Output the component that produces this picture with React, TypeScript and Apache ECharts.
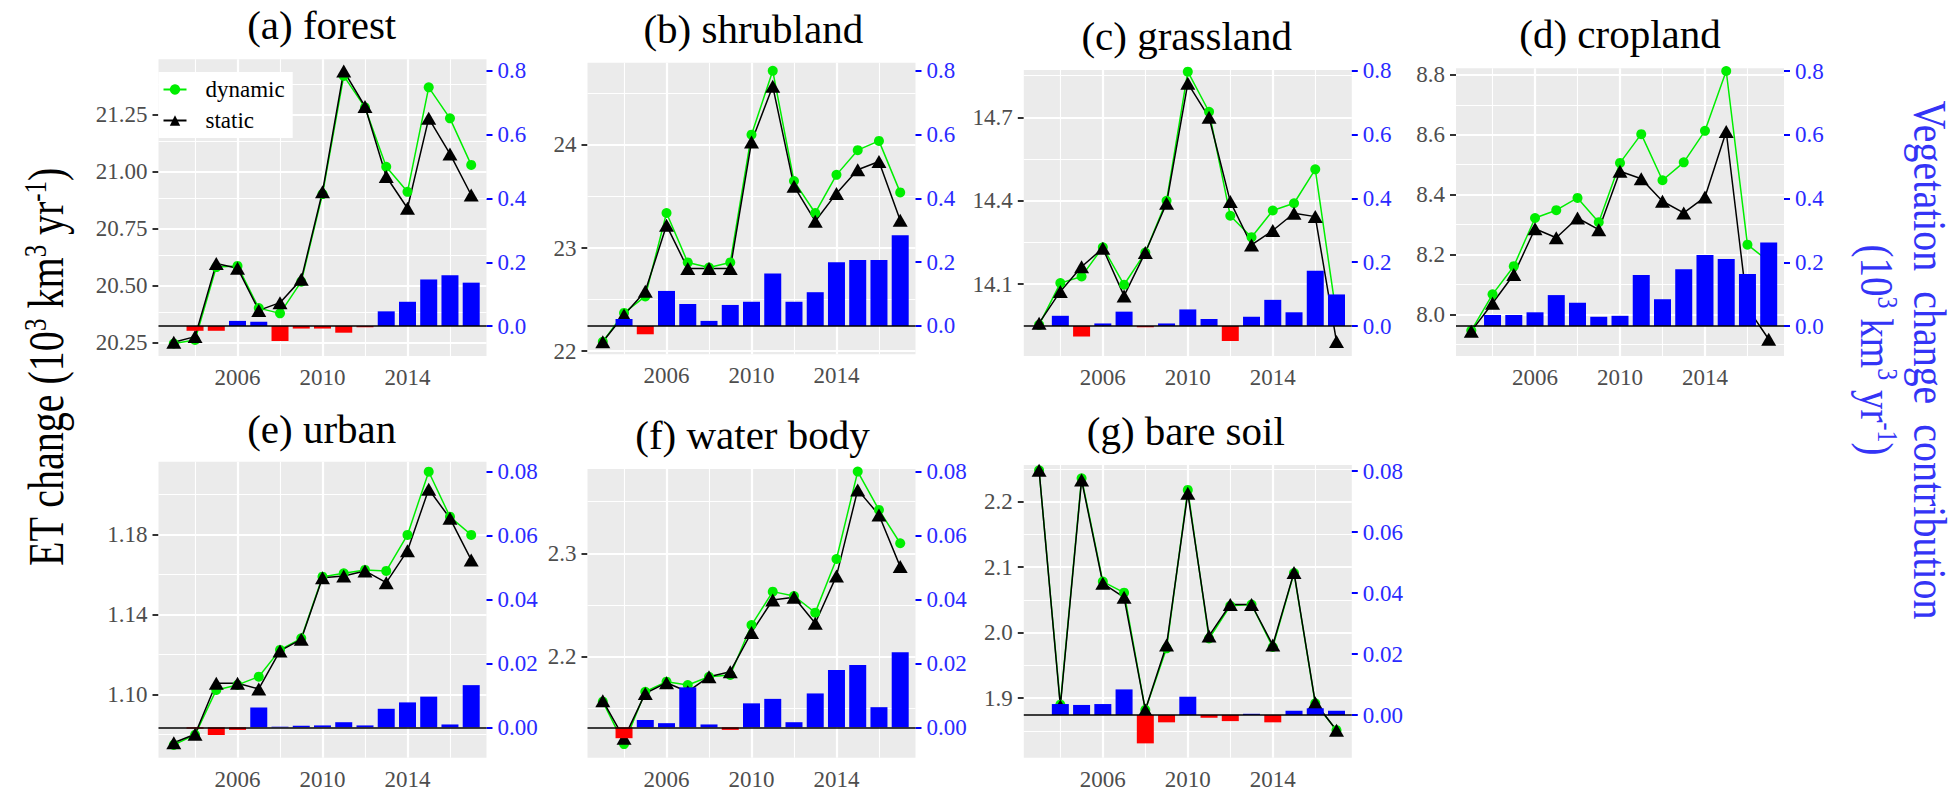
import React, { useEffect, useRef } from 'react';
import * as echarts from 'echarts';

const FONT = "'Liberation Serif', 'Times New Roman', serif";

const years = [2003, 2004, 2005, 2006, 2007, 2008, 2009, 2010, 2011, 2012, 2013, 2014, 2015, 2016, 2017];

const forestDynamic = [20.245, 20.26, 20.58, 20.585, 20.4, 20.377, 20.516, 20.9, 21.418, 21.28, 21.02, 20.91, 21.368, 21.232, 21.028];
const forestStatic = [20.25, 20.275, 20.596, 20.575, 20.39, 20.424, 20.526, 20.91, 21.44, 21.284, 20.977, 20.838, 21.232, 21.076, 20.896];
const forestVeg = [0, -0.015, -0.015, 0.016, 0.013, -0.047, -0.008, -0.008, -0.021, -0.004, 0.046, 0.076, 0.146, 0.159, 0.136];

const shrubDynamic = [22.09, 22.37, 22.53, 23.34, 22.86, 22.81, 22.86, 24.1, 24.72, 23.65, 23.34, 23.71, 23.95, 24.04, 23.54];
const shrubStatic = [22.09, 22.35, 22.58, 23.22, 22.8, 22.8, 22.8, 24.03, 24.57, 23.6, 23.26, 23.53, 23.76, 23.84, 23.27];
const shrubVeg = [0, 0.022, -0.026, 0.11, 0.069, 0.016, 0.066, 0.076, 0.165, 0.076, 0.106, 0.2, 0.207, 0.207, 0.285];

const grassDynamic = [13.954, 14.104, 14.128, 14.233, 14.098, 14.214, 14.4, 14.864, 14.72, 14.346, 14.269, 14.365, 14.391, 14.513, 13.985];
const grassStatic = [13.96, 14.074, 14.163, 14.229, 14.058, 14.214, 14.391, 14.822, 14.7, 14.397, 14.241, 14.293, 14.355, 14.343, 13.894];
const grassVeg = [0, 0.032, -0.033, 0.008, 0.045, -0.004, 0.008, 0.052, 0.022, -0.047, 0.029, 0.082, 0.043, 0.173, 0.099];

const cropDynamic = [7.946, 8.067, 8.161, 8.322, 8.348, 8.389, 8.308, 8.506, 8.602, 8.448, 8.508, 8.613, 8.813, 8.233, 8.177];
const cropStatic = [7.944, 8.037, 8.133, 8.286, 8.256, 8.322, 8.283, 8.478, 8.453, 8.378, 8.339, 8.392, 8.611, 8.022, 7.917];
const cropVeg = [0, 0.0345, 0.0345, 0.043, 0.097, 0.073, 0.029, 0.032, 0.16, 0.084, 0.178, 0.223, 0.21, 0.163, 0.262];

const urbanDynamic = [1.0747, 1.0797, 1.1022, 1.1047, 1.1088, 1.1222, 1.128, 1.1588, 1.1605, 1.1622, 1.1617, 1.1797, 1.2113, 1.1888, 1.1797];
const urbanStatic = [1.0758, 1.08, 1.1055, 1.1055, 1.1027, 1.1217, 1.1275, 1.1583, 1.1592, 1.1617, 1.1558, 1.1718, 1.2025, 1.188, 1.1672];
const urbanVeg = [0, -0.0004, -0.0024, -0.0008, 0.0062, 0.0002, 0.0005, 0.0006, 0.0016, 0.0006, 0.0058, 0.0078, 0.0096, 0.0009, 0.0132];

const waterDynamic = [2.1565, 2.1155, 2.1661, 2.1758, 2.1726, 2.1806, 2.1823, 2.2306, 2.2629, 2.2587, 2.2426, 2.2945, 2.379, 2.3419, 2.3097];
const waterStatic = [2.1574, 2.121, 2.1645, 2.1748, 2.1661, 2.1806, 2.1855, 2.2235, 2.2548, 2.2574, 2.2323, 2.2781, 2.3613, 2.3371, 2.2871];
const waterVeg = [0, -0.0034, 0.0023, 0.0013, 0.0125, 0.0009, -0.0008, 0.0075, 0.0089, 0.0016, 0.0106, 0.0179, 0.0195, 0.0063, 0.0235];

const bareDynamic = [2.248, 1.89, 2.2357, 2.078, 2.061, 1.882, 1.976, 2.218, 1.991, 2.041, 2.043, 1.978, 2.091, 1.892, 1.851];
const bareStatic = [2.248, 1.888, 2.233, 2.0754, 2.054, 1.882, 1.981, 2.213, 1.995, 2.043, 2.043, 1.981, 2.092, 1.893, 1.851];
const bareVeg = [0, 0.0036, 0.0033, 0.0036, 0.0084, -0.0093, -0.0024, 0.006, -0.0009, -0.002, 0.0004, -0.0024, 0.0014, 0.0022, 0.0014];

const xTickYears = [2006, 2010, 2014];
const xMinorYears = [2004, 2008, 2012, 2016];

const forestMajor = [20.25, 20.5, 20.75, 21.0, 21.25];
const forestMinor = [20.375, 20.625, 20.875, 21.125, 21.375];
const shrubMajor = [22, 23, 24];
const shrubMinor = [22.5, 23.5, 24.5];
const grassMajor = [14.1, 14.4, 14.7];
const grassMinor = [13.95, 14.25, 14.55, 14.85];
const cropMajor = [8.0, 8.2, 8.4, 8.6, 8.8];
const cropMinor = [7.9, 8.1, 8.3, 8.5, 8.7];
const urbanMajor = [1.1, 1.14, 1.18];
const urbanMinor = [1.08, 1.12, 1.16, 1.2];
const waterMajor = [2.2, 2.3];
const waterMinor = [2.15, 2.25, 2.35];
const bareMajor = [1.9, 2.0, 2.1, 2.2];
const bareMinor = [1.85, 1.95, 2.05, 2.15, 2.25];

const vegTicksLarge = [0, 0.2, 0.4, 0.6, 0.8];
const vegTicksSmall = [0, 0.02, 0.04, 0.06, 0.08];

const panels = [
  { title: '(a) forest', dyn: forestDynamic, sta: forestStatic, veg: forestVeg, major: forestMajor, minor: forestMinor, vegTicks: vegTicksLarge, lDec: 2, rDec: 1 },
  { title: '(b) shrubland', dyn: shrubDynamic, sta: shrubStatic, veg: shrubVeg, major: shrubMajor, minor: shrubMinor, vegTicks: vegTicksLarge, lDec: 0, rDec: 1 },
  { title: '(c) grassland', dyn: grassDynamic, sta: grassStatic, veg: grassVeg, major: grassMajor, minor: grassMinor, vegTicks: vegTicksLarge, lDec: 1, rDec: 1 },
  { title: '(d) cropland', dyn: cropDynamic, sta: cropStatic, veg: cropVeg, major: cropMajor, minor: cropMinor, vegTicks: vegTicksLarge, lDec: 1, rDec: 1 },
  { title: '(e) urban', dyn: urbanDynamic, sta: urbanStatic, veg: urbanVeg, major: urbanMajor, minor: urbanMinor, vegTicks: vegTicksSmall, lDec: 2, rDec: 2 },
  { title: '(f) water body', dyn: waterDynamic, sta: waterStatic, veg: waterVeg, major: waterMajor, minor: waterMinor, vegTicks: vegTicksSmall, lDec: 1, rDec: 2 },
  { title: '(g) bare soil', dyn: bareDynamic, sta: bareStatic, veg: bareVeg, major: bareMajor, minor: bareMinor, vegTicks: vegTicksSmall, lDec: 1, rDec: 2 },
];

// layout (pixels) and axis extents
const layout = [
  { left: 158.5, top: 59.3, height: 296.7, lMin: 20.19, lMax: 21.491, rMin: -0.0941, rMax: 0.8367, tx: 321.7, ty: 25 },
  { left: 587.5, top: 62.7, height: 291.6, lMin: 21.968, lMax: 24.799, rMin: -0.0888, rMax: 0.826, tx: 753.3, ty: 29 },
  { left: 1023.8, top: 70, height: 286, lMin: 13.842, lMax: 14.87, rMin: -0.0941, rMax: 0.803, tx: 1186.7, ty: 36 },
  { left: 1456, top: 68.3, height: 287.7, lMin: 7.861, lMax: 8.822, rMin: -0.0941, rMax: 0.8085, tx: 1620, ty: 33.5 },
  { left: 158.5, top: 461.7, height: 296, lMin: 1.0683, lMax: 1.2163, rMin: -0.0095, rMax: 0.0831, tx: 321.7, ty: 428.5 },
  { left: 587.5, top: 469, height: 288.7, lMin: 2.1023, lMax: 2.3815, rMin: -0.0095, rMax: 0.0808, tx: 752.5, ty: 435 },
  { left: 1023.8, top: 465, height: 292.7, lMin: 1.809, lMax: 2.256, rMin: -0.014, rMax: 0.082, tx: 1185.8, ty: 431 },
];
const GRID_W = 328;
const X_MIN = 2002.28;
const X_MAX = 2017.72;

const GREEN = '#00EE00';
const BLUE = '#0000FF';
const RED = '#FF0000';
const TITLE_BLUE = '#3434F6';

function buildOption() {
  const grid: any[] = [];
  const xAxis: any[] = [];
  const yAxis: any[] = [];
  const series: any[] = [];
  const graphic: any[] = [];

  panels.forEach((p, i) => {
    const L = layout[i];
    grid.push({
      left: L.left, top: L.top, width: GRID_W, height: L.height,
      show: true, backgroundColor: '#EBEBEB', borderWidth: 0,
    });
    xAxis.push({
      type: 'value', gridIndex: i, min: X_MIN, max: X_MAX,
      axisLine: { show: false },
      splitLine: { show: false },
      axisTick: { show: true, length: 6, lineStyle: { color: '#333', width: 2 }, customValues: xTickYears },
      axisLabel: { customValues: xTickYears, formatter: (v: number) => String(Math.round(v)), color: '#4D4D4D', fontSize: 23, fontFamily: FONT, margin: 10 },
    });
    yAxis.push({
      type: 'value', gridIndex: i, position: 'left', min: L.lMin, max: L.lMax,
      axisLine: { show: false },
      splitLine: { show: false },
      axisTick: { show: true, length: 6, lineStyle: { color: '#333', width: 2 }, customValues: p.major },
      axisLabel: { customValues: p.major, formatter: (v: number) => v.toFixed(p.lDec), color: '#4D4D4D', fontSize: 23, fontFamily: FONT, margin: 11 },
    });
    yAxis.push({
      type: 'value', gridIndex: i, position: 'right', min: L.rMin, max: L.rMax,
      axisLine: { show: false },
      splitLine: { show: false },
      axisTick: { show: true, length: 6, lineStyle: { color: BLUE, width: 2 }, customValues: p.vegTicks },
      axisLabel: { customValues: p.vegTicks, formatter: (v: number) => v.toFixed(p.rDec), color: '#2A2AFF', fontSize: 23, fontFamily: FONT, margin: 11 },
    });

    const gridLines: any[] = [];
    xTickYears.forEach((v) => gridLines.push({ xAxis: v, lineStyle: { color: '#FFFFFF', width: 2.2, type: 'solid' } }));
    xMinorYears.forEach((v) => gridLines.push({ xAxis: v, lineStyle: { color: '#FFFFFF', width: 1.1, type: 'solid' } }));
    p.major.forEach((v) => gridLines.push({ yAxis: v, lineStyle: { color: '#FFFFFF', width: 2.2, type: 'solid' } }));
    p.minor.forEach((v) => gridLines.push({ yAxis: v, lineStyle: { color: '#FFFFFF', width: 1.1, type: 'solid' } }));

    series.push({
      type: 'line', name: 'dynamic', xAxisIndex: i, yAxisIndex: 2 * i,
      data: years.map((y, k) => [y, p.dyn[k]]),
      symbol: 'circle', symbolSize: 10,
      itemStyle: { color: GREEN },
      lineStyle: { color: GREEN, width: 1.5 },
      z: 2,
      markLine: {
        silent: true, symbol: ['none', 'none'], z: 1,
        label: { show: false }, emphasis: { disabled: true },
        lineStyle: { type: 'solid' },
        animation: false,
        data: gridLines,
      },
    });
    series.push({
      type: 'line', name: 'static', xAxisIndex: i, yAxisIndex: 2 * i,
      data: years.map((y, k) => [y, p.sta[k]]),
      symbol: 'triangle', symbolSize: [15, 13],
      itemStyle: { color: '#000000' },
      lineStyle: { color: '#000000', width: 1.5 },
      z: 2,
    });
    series.push({
      type: 'bar', name: 'vegetation', xAxisIndex: i, yAxisIndex: 2 * i + 1,
      data: years.map((y, k) => [y, p.veg[k]]),
      barWidth: 17,
      itemStyle: { color: (params: any) => (params.value[1] < 0 ? RED : BLUE) },
      z: 3,
      markLine: {
        silent: true, symbol: ['none', 'none'], z: 4,
        label: { show: false }, emphasis: { disabled: true },
        lineStyle: { type: 'solid', color: '#000000', width: 1.6 },
        animation: false,
        data: [{ yAxis: 0 }],
      },
    });

    graphic.push({
      type: 'text', x: L.tx, y: L.ty,
      style: { text: p.title, fontSize: 41, fontFamily: FONT, fill: '#000000', textAlign: 'center', textVerticalAlign: 'middle' },
    });
  });

  const sup = { fontSize: 31, fontFamily: FONT, verticalAlign: 'top', lineHeight: 30 };

  graphic.push({
    type: 'text', x: 46, y: 367, rotation: Math.PI / 2, scaleX: 0.8,
    style: {
      text: 'ET change (10{s|3} km{s|3} yr{s|-1})',
      fontSize: 50, fontFamily: FONT, fill: '#000000', lineHeight: 52,
      textAlign: 'center', textVerticalAlign: 'middle',
      rich: { s: { ...sup, fill: '#000000' } },
    },
  });
  graphic.push({
    type: 'text', x: 1930, y: 360, rotation: -Math.PI / 2, scaleX: 0.85,
    style: {
      text: 'Vegetation  change  contribution',
      fontSize: 47, fontFamily: FONT, fill: TITLE_BLUE,
      textAlign: 'center', textVerticalAlign: 'middle',
    },
  });
  graphic.push({
    type: 'text', x: 1877, y: 350, rotation: -Math.PI / 2, scaleX: 0.83,
    style: {
      text: '(10{s|3} km{s|3} yr{s|-1})',
      fontSize: 47, fontFamily: FONT, fill: TITLE_BLUE, lineHeight: 50,
      textAlign: 'center', textVerticalAlign: 'middle',
      rich: { s: { ...sup, fontSize: 29, fill: TITLE_BLUE } },
    },
  });

  return {
    animation: false,
    backgroundColor: '#FFFFFF',
    textStyle: { fontFamily: FONT },
    legend: {
      data: ['dynamic', 'static'],
      left: 158.5, top: 72, orient: 'vertical',
      backgroundColor: '#FFFFFF', borderWidth: 0,
      padding: [6, 8, 6, 4], itemGap: 8, itemWidth: 23, itemHeight: 13,
      selectedMode: false,
      textStyle: { fontSize: 23, fontFamily: FONT, color: '#000000', padding: [0, 0, 0, 14] },
      z: 10,
    },
    grid, xAxis, yAxis, series, graphic,
  };
}

export default function App() {
  const ref = useRef<HTMLDivElement>(null);
  useEffect(() => {
    if (!ref.current) return;
    const chart = echarts.init(ref.current, undefined, { renderer: 'svg' });
    chart.setOption(buildOption() as any);
    return () => chart.dispose();
  }, []);
  return (
    <div
      ref={ref}
      style={{ position: 'absolute', left: 0, top: 0, width: 1959, height: 793, background: '#fff' }}
    />
  );
}
